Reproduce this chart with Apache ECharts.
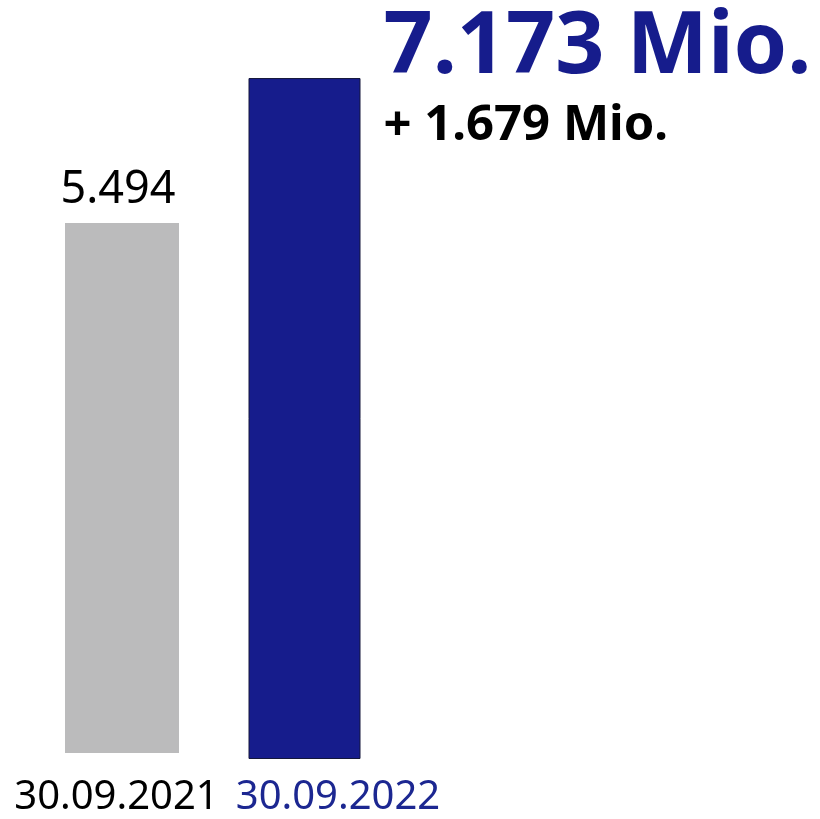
<!DOCTYPE html>
<html>
<head>
<meta charset="utf-8">
<script src="https://cdn.jsdelivr.net/npm/echarts@6/dist/echarts.min.js"></script>
<style>
  html, body { margin: 0; padding: 0; background: #fff; }
  #chart { width: 820px; height: 819px; }
</style>
</head>
<body>
<div id="chart"></div>
<script>
// Stichtage und Werte (in Tsd.)
const categories = ['30.09.2021', '30.09.2022'];
const values = [5494, 7173];
const barColors = ['#bbbbbc', '#161c8c'];
const labelColors = ['#000000', '#1c2791'];

const fmt = (v) => (v / 1000).toFixed(3);
const diff = values[1] - values[0];

const font = 'Noto Sans';
const chart = echarts.init(document.getElementById('chart'));

// je Balken ein eigenes Grid, damit die Grundlinien wie im Original sitzen
const grids = [
    { left: 40, width: 164, top: 29.5, bottom: 66 },
    { left: 222, width: 165, top: 47, bottom: 60 }
];
const labelPad = [[0, 11, 0, 0], [0, 0, 0, 67]];
const labelMargin = [25, 19];

chart.setOption({
    animation: false,
    grid: grids,
    xAxis: categories.map((c, i) => ({
        type: 'category',
        gridIndex: i,
        data: [c],
        axisLine: { show: false },
        axisTick: { show: false },
        axisLabel: {
            color: labelColors[i],
            fontFamily: font,
            fontSize: 40,
            margin: labelMargin[i],
            padding: labelPad[i]
        }
    })),
    yAxis: categories.map((c, i) => ({
        type: 'value',
        gridIndex: i,
        min: 0,
        max: 7500,
        show: false,
        splitLine: { show: false }
    })),
    series: [
        {
            type: 'bar',
            xAxisIndex: 0,
            yAxisIndex: 0,
            barWidth: 114,
            data: [values[0]],
            itemStyle: { color: barColors[0] },
            label: {
                show: true,
                position: 'top',
                distance: 10,
                offset: [-4, 0],
                formatter: (p) => fmt(p.value),
                color: '#000',
                fontFamily: font,
                fontSize: 45
            }
        },
        {
            type: 'bar',
            xAxisIndex: 1,
            yAxisIndex: 1,
            barWidth: 112,
            data: [values[1]],
            itemStyle: { color: barColors[1], borderColor: '#14173a', borderWidth: 1 },
            label: {
                show: true,
                position: [135, -72],
                align: 'left',
                verticalAlign: 'top',
                formatter: (p) => '{a|' + fmt(p.value) + ' Mio.}\n{b|+ ' + fmt(diff) + ' Mio.}',
                rich: {
                    a: { fontFamily: font, fontSize: 86, fontWeight: 'bold', color: barColors[1], lineHeight: 85 },
                    b: { fontFamily: font, fontSize: 49, fontWeight: 'bold', color: '#000', lineHeight: 71 }
                }
            }
        }
    ]
});
</script>
</body>
</html>
